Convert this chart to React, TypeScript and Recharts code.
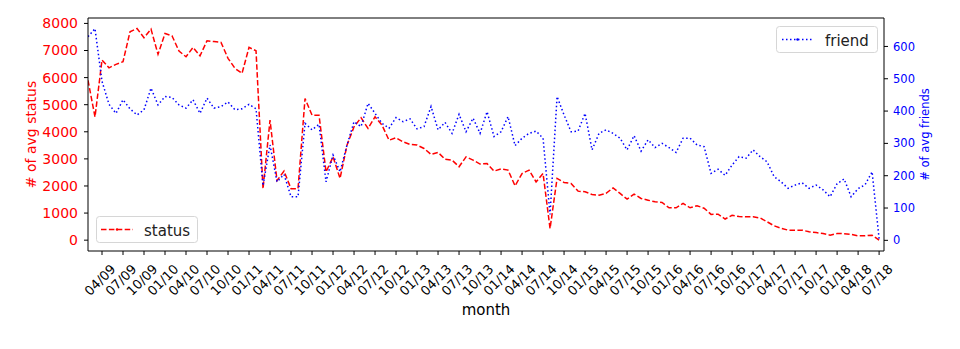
import { Legend, Line, LineChart, ReferenceLine, XAxis, YAxis } from 'recharts';

const FONT = 'DejaVu Sans, Verdana, sans-serif';

// one value per month, starting 02/09 and ending 07/18
const statusAvg = [
  5900, 4550, 6650, 6360, 6490, 6585, 7690, 7815, 7470, 7790,
  6860, 7630, 7545, 6980, 6770, 7115, 6805, 7360, 7330, 7300,
  6710, 6340, 6155, 7115, 6990, 1900, 4430, 2200, 2550, 1900,
  1900, 5230, 4615, 4615, 2520, 3075, 2280, 3510, 4185, 4520,
  4125, 4555, 4245, 3690, 3780, 3630, 3535, 3510, 3385, 3165,
  3240, 2990, 2955, 2710, 3075, 2955, 2810, 2830, 2550, 2630,
  2585, 2005, 2460, 2585, 2150, 2460, 430, 2280, 2130, 2090,
  1810, 1785, 1685, 1660, 1725, 1930, 1725, 1515, 1700, 1540,
  1475, 1415, 1390, 1195, 1195, 1355, 1195, 1270, 1180, 950,
  960, 780, 920, 870, 860, 860, 820, 680, 530, 440,
  370, 370, 370, 310, 280, 245, 185, 245, 240, 215,
  160, 160, 185, 0,
];

const friendAvg = [
  630, 655, 492, 421, 393, 435, 407, 388, 404, 471,
  419, 445, 442, 419, 409, 435, 393, 440, 409, 414,
  428, 404, 407, 421, 407, 169, 295, 181, 204, 135,
  135, 362, 342, 359, 181, 264, 212, 295, 367, 352,
  424, 393, 362, 347, 380, 367, 376, 345, 352, 414,
  342, 365, 331, 390, 336, 378, 331, 398, 321, 336,
  383, 293, 316, 331, 338, 316, 80, 445, 388, 336,
  338, 393, 280, 331, 342, 331, 316, 280, 324, 276,
  311, 287, 300, 287, 272, 316, 316, 295, 290, 207,
  220, 201, 233, 259, 254, 280, 259, 243, 197, 181,
  161, 171, 178, 161, 171, 156, 135, 175, 190, 135,
  160, 172, 212, 5,
];

const monthTicks = [
  '04/09', '07/09', '10/09', '01/10', '04/10', '07/10', '10/10', '01/11',
  '04/11', '07/11', '10/11', '01/12', '04/12', '07/12', '10/12', '01/13',
  '04/13', '07/13', '10/13', '01/14', '04/14', '07/14', '10/14', '01/15',
  '04/15', '07/15', '10/15', '01/16', '04/16', '07/16', '10/16', '01/17',
  '04/17', '07/17', '10/17', '01/18', '04/18', '07/18',
];

const statusTicks = [0, 1000, 2000, 3000, 4000, 5000, 6000, 7000, 8000];
const friendTicks = [0, 100, 200, 300, 400, 500, 600];

const data = statusAvg.map((s, i) => ({ m: i, status: s, friend: friendAvg[i] }));
// first label (04/09) is the third month of the series, then every 3 months
const tickPos = monthTicks.map((_, k) => 2 + k * 3);

function MonthTick({ x, y, payload }: any) {
  const label = monthTicks[tickPos.indexOf(payload.value)];
  const cx = x - 2;
  const cy = y + 23;
  return (
    <text
      x={cx}
      y={cy}
      transform={`rotate(-45 ${cx} ${cy})`}
      textAnchor="middle"
      dominantBaseline="central"
      fontSize={13}
      fontFamily={FONT}
      fill="#000"
    >
      {label}
    </text>
  );
}

function LegendBoxes() {
  return (
    <svg width={960} height={349} style={{ position: 'absolute', left: 0, top: 0, overflow: 'visible' }}>
      <rect x={96.5} y={216.5} width={101} height={26} rx={3} fill="#fff" fillOpacity={0.8} stroke="#d6d6d6" />
      <line x1={101} x2={133} y1={229.5} y2={229.5} stroke="#ff0000" strokeWidth={1.5} strokeDasharray="5.5 2.4" />
      <circle cx={117} cy={229.5} r={1.2} fill="#ff0000" />
      <text x={144} y={235.5} fontSize={15} fontFamily={FONT} fill="#222">status</text>

      <rect x={776.5} y={26.5} width={101} height={26} rx={3} fill="#fff" fillOpacity={0.8} stroke="#d6d6d6" />
      <line x1={782} x2={813} y1={39.5} y2={39.5} stroke="#0000ff" strokeWidth={1.5} strokeDasharray="1.5 2.5" />
      <circle cx={797.5} cy={39.5} r={1.2} fill="#0000ff" />
      <text x={825} y={45.5} fontSize={15} fontFamily={FONT} fill="#222">friend</text>
    </svg>
  );
}

export default function App() {
  return (
    <div style={{ position: 'absolute', left: 0, top: 0, width: 960, height: 349, background: '#fff' }}>
      <LineChart width={960} height={349} data={data} margin={{ top: 18, right: 0, bottom: 0, left: 0 }}>
        <XAxis
          dataKey="m"
          type="number"
          domain={[0, 113.7]}
          allowDataOverflow
          ticks={tickPos}
          interval={0}
          height={98}
          tickSize={4}
          tickMargin={2}
          stroke="#000"
          tick={<MonthTick />}
          label={{
            content: (p: any) => (
              <text
                x={p.viewBox.x + p.viewBox.width / 2}
                y={p.viewBox.y + 64}
                textAnchor="middle"
                fontSize={15}
                fontFamily={FONT}
                fill="#000"
              >
                month
              </text>
            ),
          }}
        />
        <YAxis
          yAxisId="left"
          width={88}
          domain={[-400, 8200]}
          allowDataOverflow
          ticks={statusTicks}
          interval={0}
          tickSize={4}
          tickMargin={6}
          stroke="#000"
          tick={{ fill: '#ff0000', fontSize: 14, fontFamily: FONT }}
          label={{
            content: (p: any) => {
              const cx = p.viewBox.x + 31;
              const cy = p.viewBox.y + p.viewBox.height / 2;
              return (
                <text
                  x={cx}
                  y={cy}
                  transform={`rotate(-90 ${cx} ${cy})`}
                  textAnchor="middle"
                  dominantBaseline="central"
                  fontSize={14}
                  fontFamily={FONT}
                  fill="#ff0000"
                >
                  # of avg status
                </text>
              );
            },
          }}
        />
        <YAxis
          yAxisId="right"
          orientation="right"
          width={76}
          domain={[-33, 688]}
          allowDataOverflow
          ticks={friendTicks}
          interval={0}
          tickSize={4}
          tickMargin={5}
          stroke="#000"
          tick={{ fill: '#0000ff', fontSize: 11.5, fontFamily: FONT }}
          label={{
            content: (p: any) => {
              const cx = p.viewBox.x + 41;
              const cy = p.viewBox.y + p.viewBox.height / 2;
              return (
                <text
                  x={cx}
                  y={cy}
                  transform={`rotate(-90 ${cx} ${cy})`}
                  textAnchor="middle"
                  dominantBaseline="central"
                  fontSize={11.5}
                  fontFamily={FONT}
                  fill="#0000ff"
                >
                  # of avg friends
                </text>
              );
            },
          }}
        />
        <ReferenceLine yAxisId="left" y={8200} stroke="#000" ifOverflow="visible" />
        <Line
          yAxisId="left"
          type="linear"
          dataKey="status"
          stroke="#ff0000"
          strokeWidth={1.5}
          strokeDasharray="5.5 2.4"
          dot={false}
          activeDot={false}
          isAnimationActive={false}
        />
        <Line
          yAxisId="right"
          type="linear"
          dataKey="friend"
          stroke="#0000ff"
          strokeWidth={1.5}
          strokeDasharray="1.5 2.5"
          dot={false}
          activeDot={false}
          isAnimationActive={false}
        />
        <Legend
          content={() => <LegendBoxes />}
          wrapperStyle={{ position: 'absolute', left: 0, top: 0, width: 0, height: 0, overflow: 'visible' }}
        />
      </LineChart>
    </div>
  );
}
